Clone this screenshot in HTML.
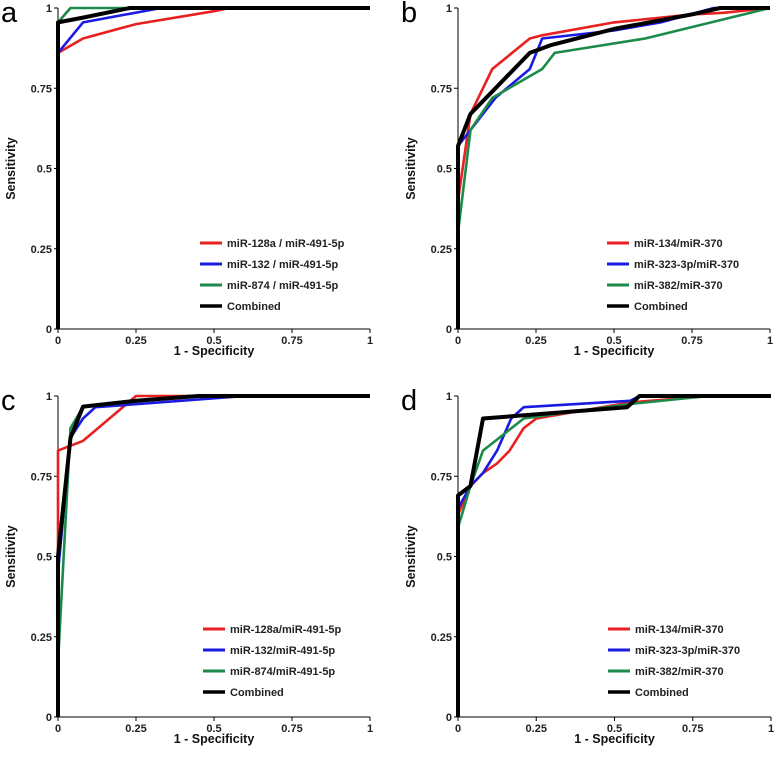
<!DOCTYPE html>
<html><head><meta charset="utf-8"><style>
body{margin:0;background:#fff;width:774px;height:758px;overflow:hidden}
svg{display:block;font-family:"Liberation Sans",Arial,sans-serif}
.tk{font-size:11px;font-weight:bold;fill:#222}
.ttl{font-size:12.5px;font-weight:bold;fill:#111}
.lg{font-size:11px;font-weight:bold;fill:#222}
.pl{font-size:29px;fill:#000}
</style></head><body>
<svg id="chart" width="774" height="758"></svg>
<script>
const ticks=[0,0.25,0.5,0.75,1];
const tickLabels=["0","0.25","0.5","0.75","1"];
const colors=["#e8201f","#1a1ae0","#1b8a4a","#000"];
// Panel a
const aRedX=[0,0,0.08,0.25,0.5,0.55,1], aRedY=[0,0.86,0.905,0.95,0.99,1,1];
const aBlueX=[0,0,0.08,0.33,1], aBlueY=[0,0.86,0.955,1,1];
const aGreenX=[0,0,0.04,1], aGreenY=[0,0.955,1,1];
const aBlackX=[0,0,0.08,0.23,1], aBlackY=[0,0.955,0.97,1,1];
const aLegend=["miR-128a / miR-491-5p","miR-132 / miR-491-5p","miR-874 / miR-491-5p","Combined"];
// Panel b
const bRedX=[0,0,0.04,0.11,0.23,0.27,0.5,0.75,0.85,1], bRedY=[0,0.4,0.67,0.81,0.905,0.915,0.955,0.98,0.985,1];
const bBlueX=[0,0,0.04,0.12,0.23,0.27,0.5,0.65,0.82,1], bBlueY=[0.3,0.57,0.62,0.72,0.81,0.905,0.93,0.955,1,1];
const bGreenX=[0,0,0.04,0.11,0.27,0.31,0.6,1], bGreenY=[0,0.3,0.62,0.72,0.81,0.86,0.905,1];
const bBlackX=[0,0,0.04,0.12,0.23,0.3,0.5,0.75,0.84,1], bBlackY=[0,0.57,0.67,0.75,0.86,0.885,0.935,0.98,1,1];
const bLegend=["miR-134/miR-370","miR-323-3p/miR-370","miR-382/miR-370","Combined"];
// Panel c
const cRedX=[0,0,0,0.08,0.25,1], cRedY=[0,0.5,0.83,0.86,1,1];
const cBlueX=[0,0,0.04,0.08,0.12,0.6,1], cBlueY=[0,0.45,0.87,0.93,0.965,1,1];
const cGreenX=[0,0,0.04,0.08,0.42,1], cGreenY=[0,0.17,0.9,0.965,1,1];
const cBlackX=[0,0,0.04,0.08,0.25,0.45,1], cBlackY=[0,0.5,0.87,0.967,0.985,1,1];
const cLegend=["miR-128a/miR-491-5p","miR-132/miR-491-5p","miR-874/miR-491-5p","Combined"];
// Panel d
const dRedX=[0,0,0.04,0.08,0.125,0.165,0.21,0.25,0.55,0.8,1], dRedY=[0,0.63,0.72,0.76,0.79,0.83,0.9,0.93,0.98,1,1];
const dBlueX=[0,0,0.04,0.08,0.125,0.17,0.21,0.55,0.58,1], dBlueY=[0,0.65,0.72,0.76,0.83,0.93,0.965,0.985,1,1];
const dGreenX=[0,0,0.04,0.08,0.21,0.55,0.8,1], dGreenY=[0,0.59,0.72,0.83,0.93,0.975,1,1];
const dBlackX=[0,0,0.04,0.08,0.54,0.58,1], dBlackY=[0,0.69,0.72,0.93,0.965,1,1];
const dLegend=["miR-134/miR-370","miR-323-3p/miR-370","miR-382/miR-370","Combined"];

const NS="http://www.w3.org/2000/svg";
const svg=document.getElementById('chart');
function mk(t,a,p){const e=document.createElementNS(NS,t);for(const k in a)e.setAttribute(k,a[k]);(p||svg).appendChild(e);return e;}
const panels=[
 {id:"a",x0:58,x1:370,y0:329,y1:8,lgx:200,lgy:243,series:[[aRedX,aRedY],[aBlueX,aBlueY],[aGreenX,aGreenY],[aBlackX,aBlackY]],legend:aLegend},
 {id:"b",x0:458,x1:770,y0:329,y1:8,lgx:607,lgy:243,series:[[bRedX,bRedY],[bBlueX,bBlueY],[bGreenX,bGreenY],[bBlackX,bBlackY]],legend:bLegend},
 {id:"c",x0:58,x1:370,y0:717,y1:396,lgx:203,lgy:629,series:[[cRedX,cRedY],[cBlueX,cBlueY],[cGreenX,cGreenY],[cBlackX,cBlackY]],legend:cLegend},
 {id:"d",x0:458,x1:771,y0:717,y1:396,lgx:608,lgy:629,series:[[dRedX,dRedY],[dBlueX,dBlueY],[dGreenX,dGreenY],[dBlackX,dBlackY]],legend:dLegend}
];
const seriesNames=["red","blue","green","combined"];
panels.forEach(p=>{
 const g=mk('g',{});
 
 
 const sx=v=>p.x0+v*(p.x1-p.x0), sy=v=>p.y0+v*(p.y1-p.y0);
 const lt=mk('text',{x:p.x0-57,y:p.y1+14,class:'pl'},g);lt.textContent=p.id;
 
 
 const ax=mk('path',{d:`M${p.x0},${p.y1}V${p.y0}H${p.x1}`,stroke:'#000','stroke-width':1,fill:'none'},g);
 
 
 ticks.forEach((t,i)=>{
  mk('line',{x1:p.x0-4,x2:p.x0,y1:sy(t),y2:sy(t),stroke:'#000'},g);
  mk('line',{x1:sx(t),x2:sx(t),y1:p.y0,y2:p.y0+4,stroke:'#000'},g);
  const yl=mk('text',{x:p.x0-6,y:sy(t)+4,class:'tk','text-anchor':'end'},g);yl.textContent=tickLabels[i];
  
  
  const xl=mk('text',{x:sx(t),y:p.y0+15,class:'tk','text-anchor':'middle'},g);xl.textContent=tickLabels[i];
  
  
 });
 const yt=mk('text',{x:0,y:0,class:'ttl','text-anchor':'middle',transform:`translate(${p.x0-43},${(p.y0+p.y1)/2}) rotate(-90)`},g);yt.textContent="Sensitivity";
 
 
 const xt=mk('text',{x:(p.x0+p.x1)/2,y:p.y0+26,class:'ttl','text-anchor':'middle'},g);xt.textContent="1 - Specificity";
 
 
 p.series.forEach((s,i)=>{
  const d=s[0].map((x,j)=>(j?'L':'M')+sx(x).toFixed(1)+','+sy(s[1][j]).toFixed(1)).join('');
  const pl=mk('path',{d:d,stroke:colors[i],'stroke-width':i==3?4:2.6,fill:'none','stroke-linejoin':'round'},g);
  
  
 });
 p.legend.forEach((l,i)=>{
  const y=p.lgy+i*21;
  const lg=mk('g',{},g);
  
  
  mk('line',{x1:p.lgx,x2:p.lgx+22,y1:y,y2:y,stroke:colors[i],'stroke-width':i==3?3.5:3},lg);
  const t=mk('text',{x:p.lgx+27,y:y+4,class:'lg'},lg);t.textContent=l;
 });
});
</script>
</body></html>
